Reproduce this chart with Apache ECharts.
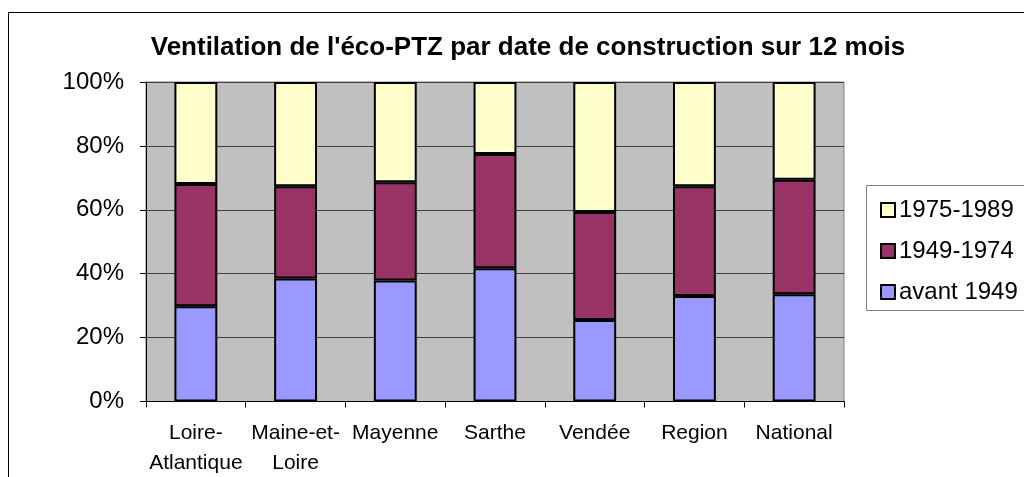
<!DOCTYPE html>
<html><head><meta charset="utf-8">
<script src="https://cdn.jsdelivr.net/npm/echarts@6/dist/echarts.min.js"></script>
<style>html,body{margin:0;padding:0;background:#fff}#c{width:1024px;height:477px}</style>
</head><body><div id="c"></div>
<script>
const categories = ['Loire-\nAtlantique', 'Maine-et-\nLoire', 'Mayenne', 'Sarthe', 'Vendée', 'Region', 'National'];
const avant1949 = [29.8, 38.5, 37.9, 41.7, 25.5, 33.0, 33.6];
const p1949_1974 = [38.3, 28.9, 30.7, 35.8, 33.8, 34.4, 35.8];
const p1975_1989 = [31.9, 32.6, 31.4, 22.5, 40.7, 32.6, 30.6];
const yTicks = [0, 20, 40, 60, 80, 100];

const chart = echarts.init(document.getElementById('c'));
const font = 'Liberation Sans, Arial, sans-serif';
const barStyle = c => ({ color: c, borderColor: '#000', borderWidth: 2 });
chart.setOption({
  animation: false,
  title: {
    text: "Ventilation de l'éco-PTZ par date de construction sur 12 mois",
    left: 523, textAlign: 'center', top: 30,
    textStyle: { fontFamily: font, fontWeight: 'bold', fontSize: 26, color: '#000' }
  },
  graphic: [{
    type: 'rect', shape: { x: 8.5, y: 12.5, width: 1030, height: 480 },
    style: { fill: 'none', stroke: '#000', lineWidth: 1 }, z: 100
  }, {
    type: 'rect', shape: { x: 866.5, y: 185.5, width: 170, height: 125 },
    style: { fill: '#fff', stroke: '#808080', lineWidth: 1 }, z: 1
  }],
  legend: {
    orient: 'vertical', left: 875, top: 193, itemGap: 17,
    itemWidth: 14, itemHeight: 14,
    data: ['1975-1989', '1949-1974', 'avant 1949'],
    textStyle: { fontFamily: font, fontSize: 24, color: '#000', padding: [0, 0, 0, -1] },
    icon: 'rect', z: 5
  },
  grid: {
    left: 146, right: 180, top: 82, bottom: 75.5, outerBoundsMode: 'none', containLabel: false,
    show: true, backgroundColor: '#C0C0C0', borderColor: '#808080', borderWidth: 1
  },
  xAxis: {
    type: 'category', data: categories,
    axisLine: { lineStyle: { color: '#000', width: 1 } },
    axisTick: { show: true, length: 6, lineStyle: { color: '#000' } },
    axisLabel: { fontFamily: font, fontSize: 21, color: '#000', margin: 17, lineHeight: 30, interval: 0 }
  },
  yAxis: {
    type: 'value', min: 0, max: 100, interval: 20,
    axisLine: { show: true, lineStyle: { color: '#000' } },
    axisTick: { show: true, length: 6, lineStyle: { color: '#000' } },
    axisLabel: { fontFamily: font, fontSize: 24, color: '#000', margin: 22,
      formatter: v => yTicks.includes(v) ? v + '%' : '' },
    splitLine: { show: true, lineStyle: { color: '#404040', width: 1 } }
  },
  series: [
    { name: 'avant 1949', type: 'bar', stack: 's', data: avant1949, barWidth: '43%', itemStyle: barStyle('#9999FF') },
    { name: '1949-1974', type: 'bar', stack: 's', data: p1949_1974, barWidth: '43%', itemStyle: barStyle('#993366') },
    { name: '1975-1989', type: 'bar', stack: 's', data: p1975_1989, barWidth: '43%', itemStyle: barStyle('#FFFFCC') }
  ]
});
</script></body></html>
